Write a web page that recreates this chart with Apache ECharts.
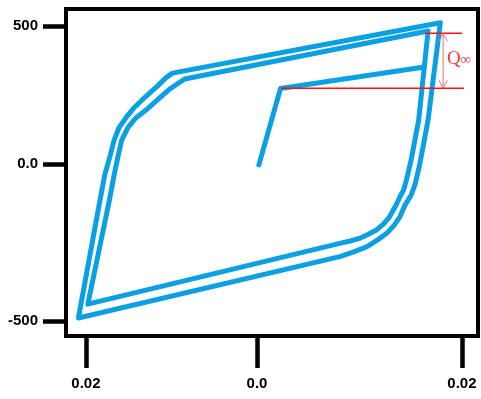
<!DOCTYPE html>
<html>
<head>
<meta charset="utf-8">
<style>
  html, body { margin: 0; padding: 0; background: #ffffff; }
  #chart { width: 481px; height: 399px; }
</style>
<script src="https://cdn.jsdelivr.net/npm/echarts@6/dist/echarts.min.js"></script>
</head>
<body>
<div id="chart"></div>
<script>
// ---- data (strain, stress) ----
var initialBranch = [
  [0.0002, -3], [0.0025, 256], [0.0178, 329]
];
var innerLoop = [
  [0.0182, 451], [0.0172, 149], [0.0164, 14], [0.0159, -54], [0.0156, -88],
  [0.0152, -112], [0.0148, -139], [0.0141, -179], [0.0135, -202], [0.0127, -224],
  [0.0118, -239], [0.0110, -251], [0.0099, -261], [0.0088, -269], [-0.0180, -475],
  [-0.0157, -122], [-0.0152, -37], [-0.0148, 24], [-0.0144, 81], [-0.0137, 125],
  [-0.0129, 156], [-0.0118, 183], [-0.0106, 217], [-0.0093, 254], [-0.0077, 288],
  [0.0182, 451]
];
var outerLoop = [
  [0.0195, 479], [0.0182, 149], [0.0173, -3], [0.0168, -71], [0.0164, -105],
  [0.0157, -142], [0.0152, -179], [0.0146, -207], [0.0138, -235], [0.0128, -258],
  [0.0117, -280], [0.0103, -298], [0.0088, -314], [-0.0190, -522],
  [-0.0167, -122], [-0.0162, -37], [-0.0156, 31], [-0.0152, 81], [-0.0147, 122],
  [-0.0139, 159], [-0.0131, 190], [-0.0119, 227], [-0.0106, 264], [-0.0097, 292],
  [-0.0090, 308], [0.0195, 479]
];
// Q-infinity annotation
var qTopStress = 443;
var qBottomStress = 257;
var qTopLineX = [0.0179, 0.0218];
var qBottomLineX = [0.00255, 0.0220];
var qArrowX = 0.0198;
var qLabelPos = [0.0215, 356];
// ticks
var xTickValues = [-0.0182, 0, 0.0218];
var xTickLabels = ['0.02', '0.0', '0.02'];
var yTickValues = [468, 0, -532];
var yTickLabels = ['500', '0.0', '-500'];
var xRange = [-0.02032, 0.02351];
var yRange = [-583, 525.4];

function labelFor(values, labels) {
  return function (v) {
    var best = 0, d = Infinity;
    for (var i = 0; i < values.length; i++) {
      var dd = Math.abs(values[i] - v);
      if (dd < d) { d = dd; best = i; }
    }
    return labels[best];
  };
}

var blue = '#0ba0e3';
var dx = 0.00045, dy = 27;

var chart = echarts.init(document.getElementById('chart'), null, { renderer: 'canvas' });
chart.setOption({
  backgroundColor: '#ffffff',
  animation: false,
  grid: { left: 66, right: 3, top: 9, bottom: 63, show: true, borderColor: '#000', borderWidth: 4, backgroundColor: 'transparent' },
  xAxis: {
    type: 'value', min: xRange[0], max: xRange[1],
    splitLine: { show: false },
    axisLine: { show: true, onZero: false, lineStyle: { color: '#000', width: 4 } },
    axisTick: { show: true, inside: false, customValues: xTickValues, length: 32, lineStyle: { color: '#000', width: 4.5 } },
    axisLabel: {
      show: true, customValues: xTickValues, margin: 40,
      formatter: labelFor(xTickValues, xTickLabels),
      color: '#000', fontSize: 15, fontWeight: 'bold', fontFamily: 'Liberation Sans, Arial, sans-serif'
    }
  },
  yAxis: {
    type: 'value', min: yRange[0], max: yRange[1],
    splitLine: { show: false },
    axisLine: { show: true, onZero: false, lineStyle: { color: '#000', width: 4 } },
    axisTick: { show: true, inside: false, customValues: yTickValues, length: 23, lineStyle: { color: '#000', width: 4.5 } },
    axisLabel: {
      show: true, customValues: yTickValues, margin: 28,
      formatter: labelFor(yTickValues, yTickLabels),
      color: '#000', fontSize: 15, fontWeight: 'bold', fontFamily: 'Liberation Sans, Arial, sans-serif'
    }
  },
  series: [
    {
      type: 'line', data: outerLoop, showSymbol: false, symbol: 'none',
      lineStyle: { color: blue, width: 5, cap: 'round', join: 'round' }, z: 3
    },
    {
      type: 'line', data: innerLoop, showSymbol: false, symbol: 'none',
      lineStyle: { color: blue, width: 5, cap: 'round', join: 'round' }, z: 3
    },
    {
      type: 'line', data: initialBranch, showSymbol: false, symbol: 'none',
      lineStyle: { color: blue, width: 5, cap: 'round', join: 'round' }, z: 3
    },
    {
      type: 'lines', coordinateSystem: 'cartesian2d', polyline: true, silent: true,
      lineStyle: { color: '#ff1010', width: 1.5, opacity: 1, curveness: 0 },
      data: [
        { coords: [[qTopLineX[0], qTopStress], [qTopLineX[1], qTopStress]] },
        { coords: [[qBottomLineX[0], qBottomStress], [qBottomLineX[1], qBottomStress]] }
      ],
      z: 5
    },
    {
      type: 'lines', coordinateSystem: 'cartesian2d', polyline: true, silent: true,
      lineStyle: { color: '#f07070', width: 1, opacity: 1, curveness: 0 },
      data: [
        { coords: [[qArrowX, qTopStress], [qArrowX, qBottomStress]] },
        { coords: [[qArrowX - dx, qTopStress - dy], [qArrowX, qTopStress], [qArrowX + dx, qTopStress - dy]] },
        { coords: [[qArrowX - dx, qBottomStress + dy], [qArrowX, qBottomStress], [qArrowX + dx, qBottomStress + dy]] }
      ],
      z: 5
    },
    {
      type: 'scatter', data: [qLabelPos], symbolSize: 0, silent: true,
      label: {
        show: true, position: 'inside',
        formatter: '{q|Q}{s|∞}',
        rich: {
          q: { fontFamily: 'Liberation Serif, Times New Roman, serif', fontSize: 19, color: '#ff0000', verticalAlign: 'bottom' },
          s: { fontFamily: 'Liberation Serif, Times New Roman, serif', fontSize: 15, color: '#ff0000', verticalAlign: 'bottom', padding: [0, 0, 1, 0] }
        }
      },
      z: 6
    }
  ]
});
</script>
</body>
</html>
